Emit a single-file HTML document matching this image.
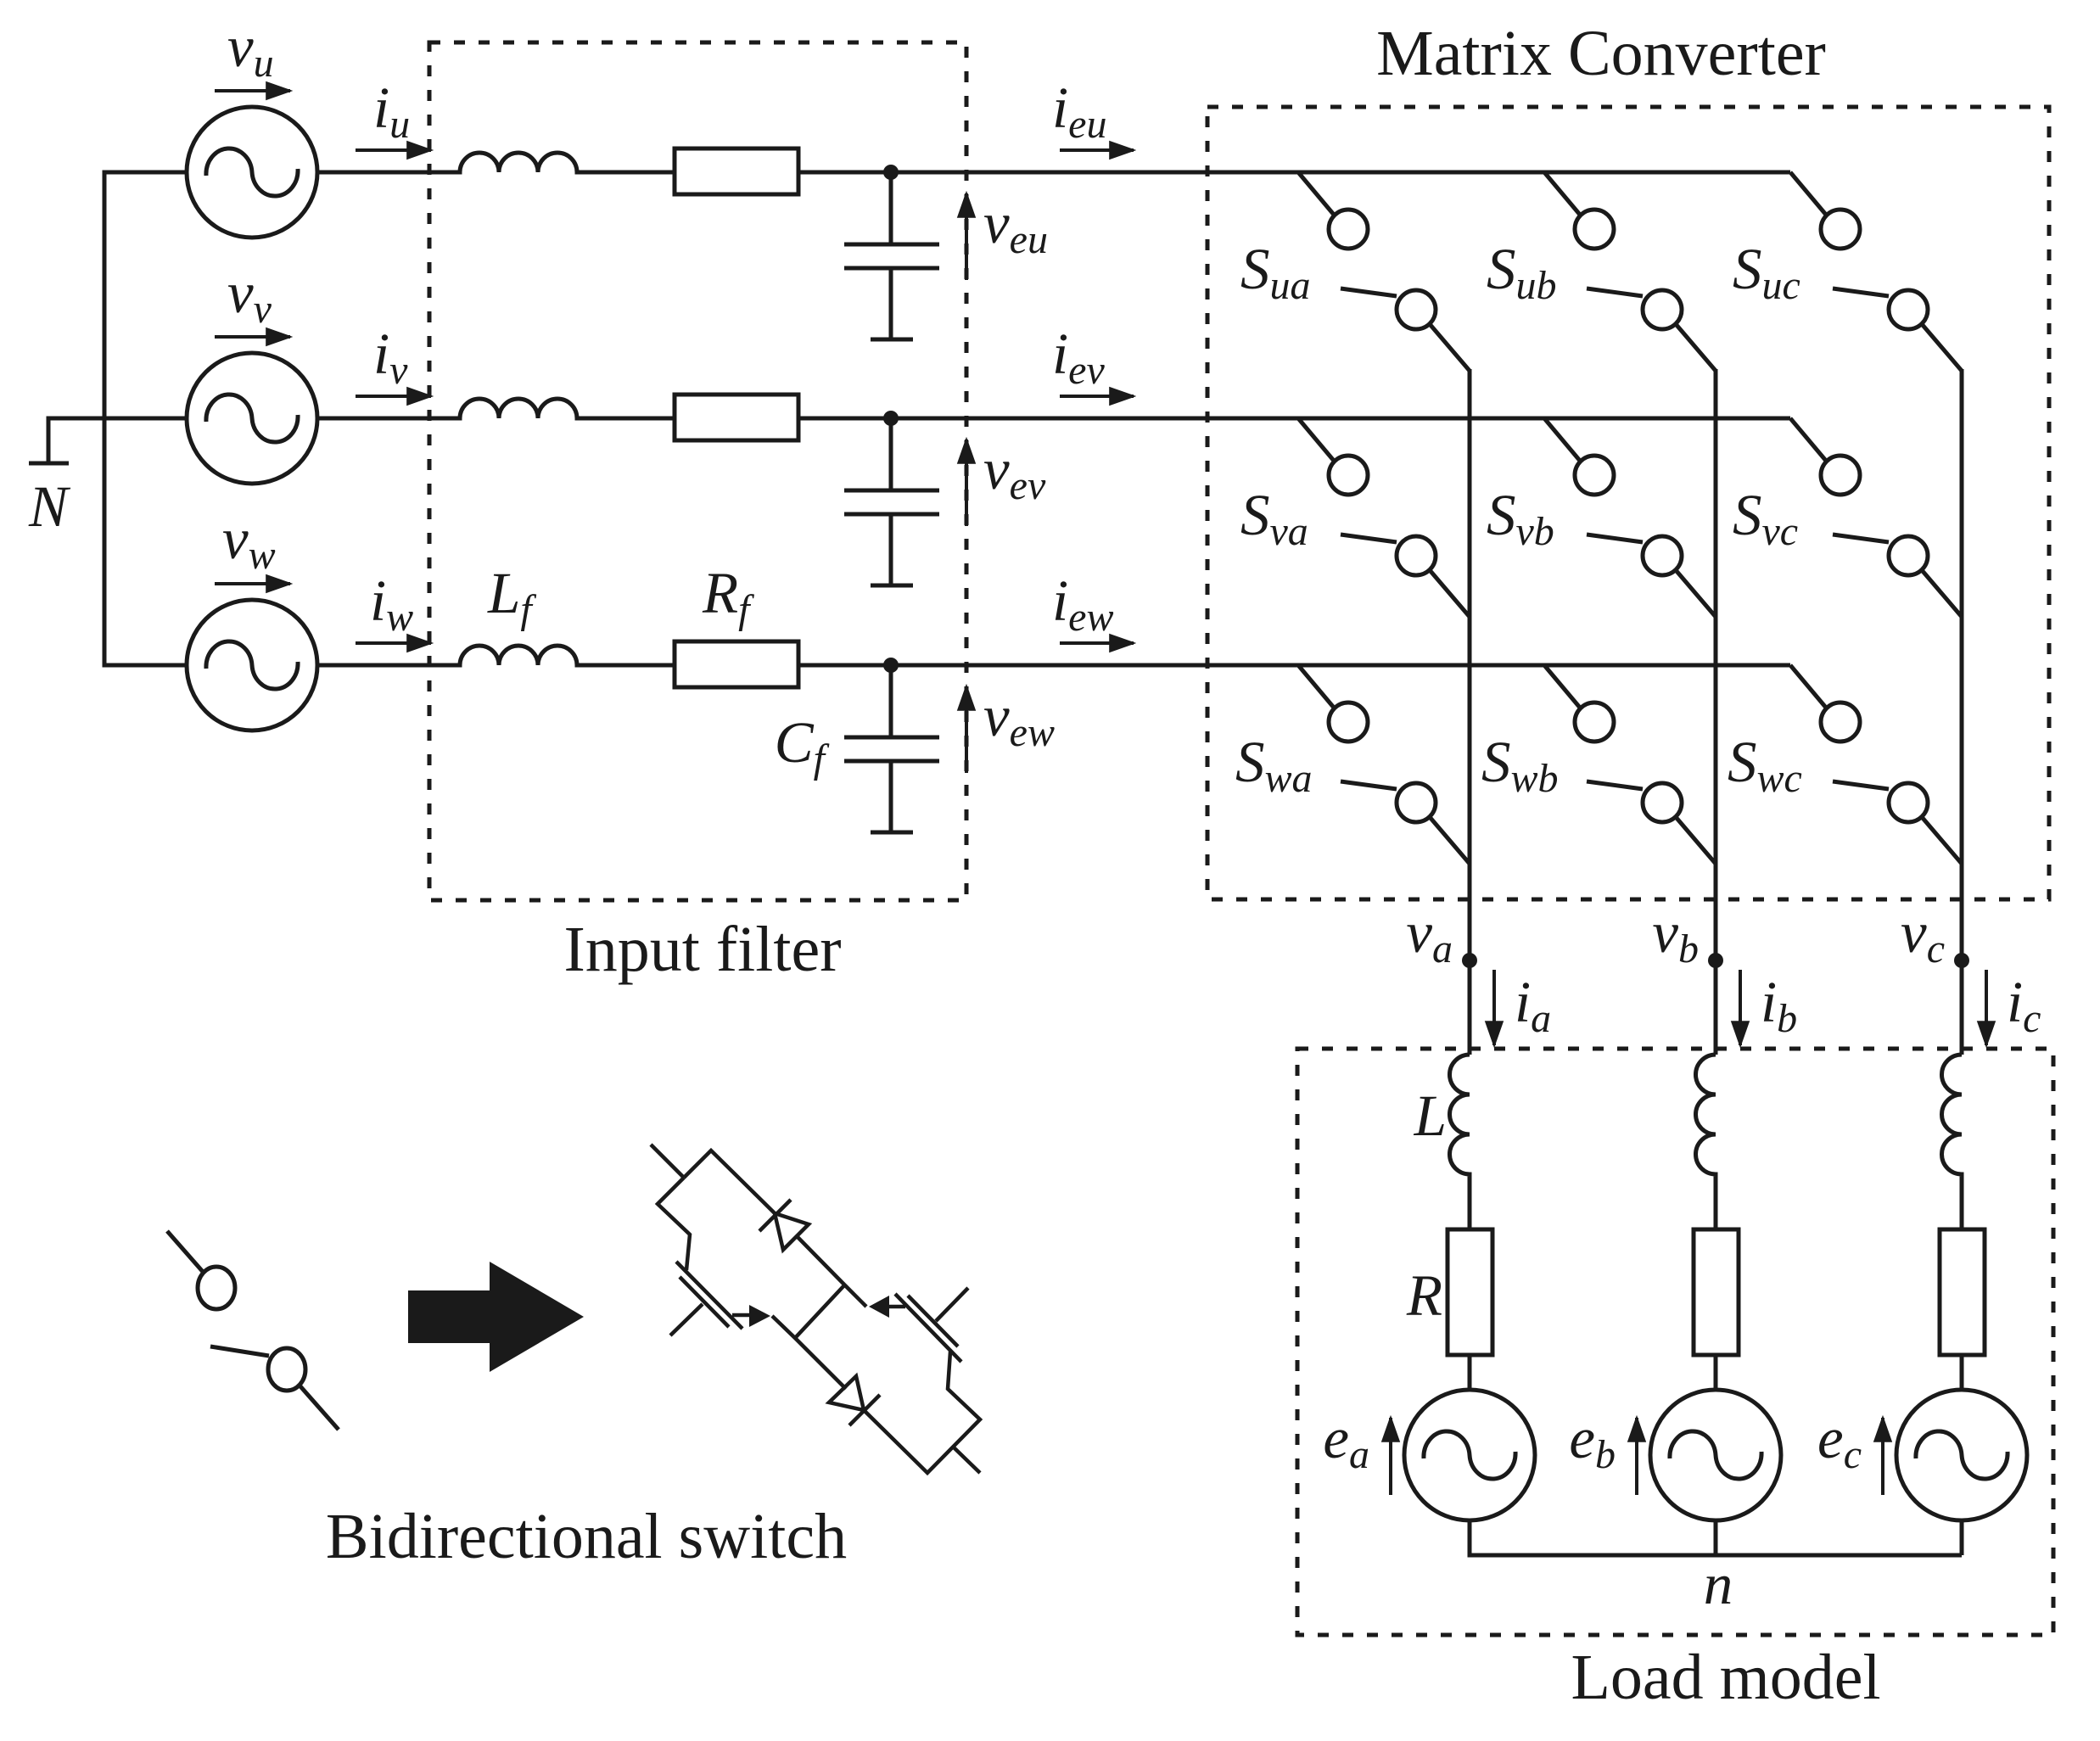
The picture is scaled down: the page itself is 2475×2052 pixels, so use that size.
<!DOCTYPE html>
<html><head><meta charset="utf-8"><style>
html,body{margin:0;padding:0;background:#fff;}
svg{display:block;}
text{font-family:"Liberation Serif",serif;fill:#1a1a1a;}
.m{font-style:italic;font-size:69px;}
.s{font-size:48px;}
.t{font-size:76px;}
</style></head><body>
<svg width="2475" height="2052" viewBox="0 0 2475 2052" xmlns="http://www.w3.org/2000/svg">
<defs>
<marker id="ah" viewBox="0 0 10 10" refX="9" refY="5" markerWidth="8" markerHeight="8" markerUnits="strokeWidth" orient="auto"><path d="M0,1.5 L10,5 L0,8.5 z" fill="#1a1a1a"/></marker>
<g id="src"><circle cx="0" cy="0" r="77" fill="none" stroke="#1a1a1a" stroke-width="5"/><path d="M-54,4 A27,30 0 0 1 0,0 A27,30 0 0 0 54,-4" fill="none" stroke="#1a1a1a" stroke-width="5"/></g>
<g id="sw" fill="none" stroke="#1a1a1a" stroke-width="5">
<path d="M1530,203 L1572,253"/><circle cx="1589" cy="270" r="23"/>
<path d="M1580,340 L1646,349"/><circle cx="1669" cy="365" r="23"/>
<path d="M1685,382 L1732,437"/>
</g>
</defs>
<g fill="none" stroke="#1a1a1a" stroke-width="5">
<path d="M220,203 H123 V784 H220 M123,493 H220 M57,546 V493 H123 M34,546 H81"/>
<path d="M374,203 H542 A23,23 0 0 1 588,203 A23,23 0 0 1 634,203 A23,23 0 0 1 680,203 H795 M941,203 H2110"/>
<path d="M374,493 H542 A23,23 0 0 1 588,493 A23,23 0 0 1 634,493 A23,23 0 0 1 680,493 H795 M941,493 H2110"/>
<path d="M374,784 H542 A23,23 0 0 1 588,784 A23,23 0 0 1 634,784 A23,23 0 0 1 680,784 H795 M941,784 H2110"/>
<rect x="795" y="175" width="146" height="54"/>
<rect x="795" y="465" width="146" height="54"/>
<rect x="795" y="756" width="146" height="54"/>
<path d="M1050,203 V288 M995,288 H1107 M995,316 H1107 M1050,316 V400 M1026,400 H1076"/>
<path d="M1050,493 V578 M995,578 H1107 M995,606 H1107 M1050,606 V690 M1026,690 H1076"/>
<path d="M1050,784 V869 M995,869 H1107 M995,897 H1107 M1050,897 V981 M1026,981 H1076"/>
<path d="M1732,435 V1243 M2022,435 V1243 M2312,435 V1243"/>
<path d="M1732,1243 A23.5,23.5 0 0 0 1732,1290 A23.5,23.5 0 0 0 1732,1337 A23.5,23.5 0 0 0 1732,1384 V1449 M1732,1597 V1638 M1732,1792 V1833 H2312"/>
<path d="M2022,1243 A23.5,23.5 0 0 0 2022,1290 A23.5,23.5 0 0 0 2022,1337 A23.5,23.5 0 0 0 2022,1384 V1449 M2022,1597 V1638 M2022,1792 V1833"/>
<path d="M2312,1243 A23.5,23.5 0 0 0 2312,1290 A23.5,23.5 0 0 0 2312,1337 A23.5,23.5 0 0 0 2312,1384 V1449 M2312,1597 V1638 M2312,1792 V1833"/>
<rect x="1706" y="1449" width="53" height="148"/>
<rect x="1996" y="1449" width="53" height="148"/>
<rect x="2286" y="1449" width="53" height="148"/>
</g>
<use href="#src" x="297" y="203"/><use href="#src" x="297" y="493"/><use href="#src" x="297" y="784"/>
<use href="#src" x="1732" y="1715"/><use href="#src" x="2022" y="1715"/><use href="#src" x="2312" y="1715"/>
<use href="#sw"/><use href="#sw" x="290"/><use href="#sw" x="580"/>
<use href="#sw" y="290"/><use href="#sw" x="290" y="290"/><use href="#sw" x="580" y="290"/>
<use href="#sw" y="581"/><use href="#sw" x="290" y="581"/><use href="#sw" x="580" y="581"/>
<g fill="#1a1a1a"><circle cx="1050" cy="203" r="9"/><circle cx="1050" cy="493" r="9"/><circle cx="1050" cy="784" r="9"/>
<circle cx="1732" cy="1132" r="9"/><circle cx="2022" cy="1132" r="9"/><circle cx="2312" cy="1132" r="9"/></g>
<g stroke="#1a1a1a" stroke-width="4" marker-end="url(#ah)" fill="none">
<path d="M253,107 H342"/><path d="M253,397 H342"/><path d="M253,688 H342"/>
<path d="M419,177 H508"/><path d="M419,467 H508"/><path d="M419,758 H508"/>
<path d="M1249,177 H1336"/><path d="M1249,467 H1336"/><path d="M1249,758 H1336"/>
<path d="M1139,330 V228"/><path d="M1139,620 V518"/><path d="M1139,911 V809"/>
<path d="M1761,1143 V1232"/><path d="M2051,1143 V1232"/><path d="M2341,1143 V1232"/>
<path d="M1639,1762 V1671"/><path d="M1929,1762 V1671"/><path d="M2219,1762 V1671"/>
</g>
<g fill="none" stroke="#1a1a1a" stroke-width="5" stroke-dasharray="13 16">
<rect x="506" y="50" width="633" height="1011"/>
<rect x="1423" y="126" width="992" height="934"/>
<rect x="1529" y="1236" width="891" height="691"/>
</g>
<g class="m">
<text x="268" y="78">v<tspan class="s" dy="12">u</tspan></text>
<text x="268" y="368">v<tspan class="s" dy="12">v</tspan></text>
<text x="262" y="658">v<tspan class="s" dy="12">w</tspan></text>
<text x="440" y="150">i<tspan class="s" dy="12">u</tspan></text>
<text x="440" y="440">i<tspan class="s" dy="12">v</tspan></text>
<text x="436" y="731">i<tspan class="s" dy="12">w</tspan></text>
<text x="1240" y="150">i<tspan class="s" dy="12">eu</tspan></text>
<text x="1240" y="440">i<tspan class="s" dy="12">ev</tspan></text>
<text x="1240" y="731">i<tspan class="s" dy="12">ew</tspan></text>
<text x="1159" y="286">v<tspan class="s" dy="12">eu</tspan></text>
<text x="1159" y="576">v<tspan class="s" dy="12">ev</tspan></text>
<text x="1159" y="867">v<tspan class="s" dy="12">ew</tspan></text>
<text x="575" y="722">L<tspan class="s" dy="12">f</tspan></text>
<text x="828" y="722">R<tspan class="s" dy="12">f</tspan></text>
<text x="972" y="898" text-anchor="end">C<tspan class="s" dy="12">f</tspan></text>
<text x="57" y="620" text-anchor="middle">N</text>
<text x="1462" y="340">S<tspan class="s" dy="12">ua</tspan></text>
<text x="1752" y="340">S<tspan class="s" dy="12">ub</tspan></text>
<text x="2042" y="340">S<tspan class="s" dy="12">uc</tspan></text>
<text x="1462" y="630">S<tspan class="s" dy="12">va</tspan></text>
<text x="1752" y="630">S<tspan class="s" dy="12">vb</tspan></text>
<text x="2042" y="630">S<tspan class="s" dy="12">vc</tspan></text>
<text x="1456" y="921">S<tspan class="s" dy="12">wa</tspan></text>
<text x="1746" y="921">S<tspan class="s" dy="12">wb</tspan></text>
<text x="2036" y="921">S<tspan class="s" dy="12">wc</tspan></text>
<text x="1712" y="1122" text-anchor="end">v<tspan class="s" dy="12">a</tspan></text>
<text x="2002" y="1122" text-anchor="end">v<tspan class="s" dy="12">b</tspan></text>
<text x="2292" y="1122" text-anchor="end">v<tspan class="s" dy="12">c</tspan></text>
<text x="1785" y="1204">i<tspan class="s" dy="12">a</tspan></text>
<text x="2075" y="1204">i<tspan class="s" dy="12">b</tspan></text>
<text x="2365" y="1204">i<tspan class="s" dy="12">c</tspan></text>
<text x="1614" y="1718" text-anchor="end">e<tspan class="s" dy="12">a</tspan></text>
<text x="1904" y="1718" text-anchor="end">e<tspan class="s" dy="12">b</tspan></text>
<text x="2194" y="1718" text-anchor="end">e<tspan class="s" dy="12">c</tspan></text>
<text x="1705" y="1338" text-anchor="end">L</text>
<text x="1700" y="1550" text-anchor="end">R</text>
<text x="2025" y="1890" text-anchor="middle">n</text>
</g>
<g class="t" text-anchor="middle">
<text x="1887" y="88">Matrix Converter</text>
<text x="828" y="1144">Input filter</text>
<text x="2034" y="2002">Load model</text>
<text x="691" y="1836">Bidirectional switch</text>
</g>
<g fill="none" stroke="#1a1a1a" stroke-width="5">
<path d="M197,1451 L240,1500"/><ellipse cx="255" cy="1518" rx="22" ry="25"/>
<path d="M248,1587 L317,1598"/><ellipse cx="338" cy="1614" rx="22" ry="25"/>
<path d="M354,1634 L399,1685"/>
</g>
<path d="M481,1521 H577 V1487 L688,1552 L577,1617 V1583 H481 Z" fill="#1a1a1a"/>
<g fill="none" stroke="#1a1a1a" stroke-width="4.5">
<path d="M767,1349 L806,1388 M806,1388 L838,1356 L913,1430"/>
<path d="M895,1451 L932,1414"/>
<path d="M913,1430 L953,1443 L923,1473 Z"/>
<path d="M940,1458 L995,1514 L1021,1540"/>
<path d="M806,1388 L775,1419 L813,1455 L809,1497"/>
<path d="M797,1487 L875,1566 M801,1505 L859,1564 M828,1537 L790,1574"/>
<path d="M863,1550 H892"/>
<path d="M910,1551 L937,1577 L995,1515 M937,1577 L997,1637"/>
<path d="M1018,1662 L977,1653 L1009,1622 Z"/>
<path d="M1001,1680 L1037,1644"/>
<path d="M1018,1662 L1093,1736 L1155,1673 L1117,1637 L1120,1593"/>
<path d="M1123,1705 L1155,1736"/>
<path d="M1055,1525 L1133,1605 M1070,1527 L1129,1587 M1103,1557 L1141,1518"/>
<path d="M1067,1540 H1045"/>
</g>
<g fill="#1a1a1a">
<path d="M883,1538 L908,1551 L883,1564 Z"/>
<path d="M1048,1527 L1024,1540 L1048,1553 Z"/>
</g>
</svg>
</body></html>
